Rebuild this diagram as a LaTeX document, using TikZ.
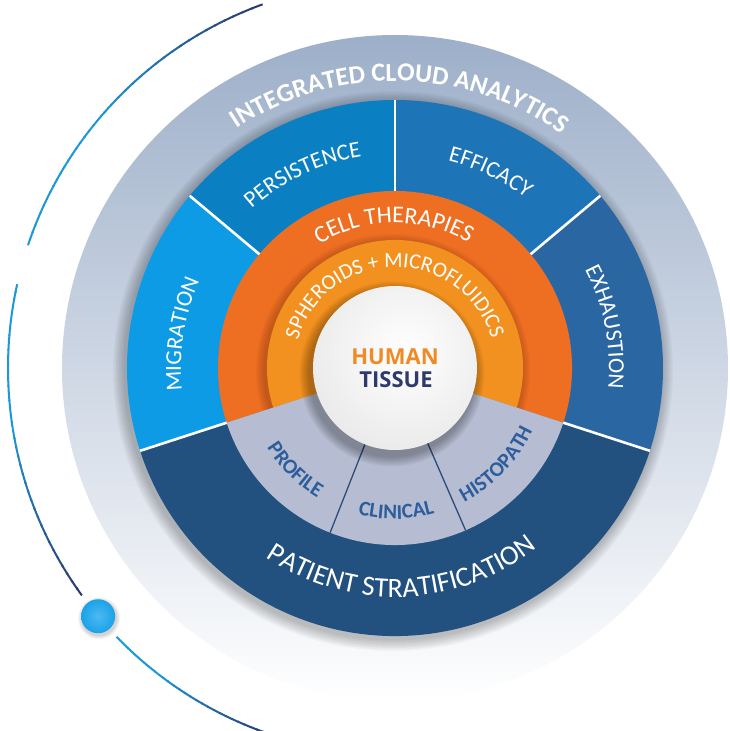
\documentclass[tikz,border=0pt]{standalone}
\usepackage{fontspec}
\setmainfont{Carlito}
\newfontfamily\centrefont{Open Sans}
\usetikzlibrary{decorations.text,calc}

% palette
\definecolor{ringgrey}{HTML}{9DAFC9}
\definecolor{ringgreymid}{HTML}{B6C3D5}
\definecolor{persist}{HTML}{0A80C3}
\definecolor{effic}{HTML}{1D74B6}
\definecolor{exhaus}{HTML}{2A66A2}
\definecolor{migr}{HTML}{0E9BE6}
\definecolor{patient}{HTML}{22517F}
\definecolor{cellorange}{HTML}{EE6E22}
\definecolor{sphorange}{HTML}{F2911F}
\definecolor{subgrey}{HTML}{B6BDD2}
\definecolor{subtext}{HTML}{2D5E9B}
\definecolor{subline}{HTML}{2C4B78}
\definecolor{humanor}{HTML}{F08A24}
\definecolor{tissuenavy}{HTML}{2E3A6B}
\definecolor{arcnavy}{HTML}{2B386A}
\definecolor{arcblue}{HTML}{1E98D6}
\definecolor{dotblue}{HTML}{1BA2E8}
\definecolor{dotlight}{HTML}{4DB9F2}

% annular sector: colour, from angle, to angle, inner radius, outer radius
\newcommand{\ringsector}[5]{%
  \fill[#1] (#2:#4) -- (#2:#5) arc[start angle=#2, end angle=#3, radius=#5]
    -- (#3:#4) arc[start angle=#3, end angle=#2, radius=#4] -- cycle;}

% text running clockwise (upper half, letters facing outwards)
\newcommand{\cwlabel}[5]{%
  \path[decorate, decoration={text along path, text align=center, text={|#1|#2}}]
    ({#3+#4}:#5) arc[start angle={#3+#4}, end angle={#3-#4}, radius=#5];}

% text running counter-clockwise (lower half, letters facing the centre)
\newcommand{\ccwlabel}[5]{%
  \path[decorate, decoration={text along path, text align=center, text={|#1|#2}}]
    ({#3-#4}:#5) arc[start angle={#3-#4}, end angle={#3+#4}, radius=#5];}

% one piece of the outer orbit, colour blended from navy to blue
\newcommand{\orbitpiece}[4]{%
  \foreach \k in {0,...,19}{%
    \pgfmathsetmacro\oa{#1+(#2-#1)*\k/20}%
    \pgfmathsetmacro\ob{min(#1+(#2-#1)*(\k+1.2)/20,#2)}%
    \pgfmathsetmacro\op{#3+(#4-#3)*(\k+0.5)/20}%
    \draw[orbit, arcnavy!\op!arcblue] (\oa:387) arc[start angle=\oa, end angle=\ob, radius=387];
  }}

\newcommand{\bigfmt}{\color{white}\bfseries\fontsize{26}{26}\selectfont}
\newcommand{\bluefmt}{\color{white}\fontsize{23}{23}\selectfont}
\newcommand{\cellfmt}{\color{white}\fontsize{24}{24}\selectfont}
\newcommand{\sphfmt}{\color{white}\fontsize{21.5}{21.5}\selectfont}
\newcommand{\patfmt}{\color{white}\fontsize{28}{28}\selectfont}
\newcommand{\subfmt}{\color{subtext}\bfseries\fontsize{21}{21}\selectfont}

\tikzset{
  orbit/.style={line width=2pt},
  divider/.style={white, line width=2.6pt},
  subdivider/.style={subline, line width=1.3pt},
  centrelabel/.style={font=\centrefont\bfseries\fontsize{22}{22}\selectfont, inner sep=0pt},
}

\begin{document}
\begin{tikzpicture}[x=1pt, y=1pt]
  \useasboundingbox (-395,-363) rectangle (334,368);
  \fill[white] (-395,-363) rectangle (334,368);

  % outer orbit with its marker
  \orbitpiece{110}{140}{100}{0}
  \orbitpiece{140}{161.5}{0}{0}
  \orbitpiece{167.5}{189}{0}{0}
  \orbitpiece{189}{216}{0}{100}
  \orbitpiece{224}{232}{0}{0}
  \orbitpiece{232}{252}{0}{100}
  \coordinate (marker) at (219.9:387);
  \foreach \k in {1,...,5} \fill[black, opacity=0.035] ($(marker)+(1,-2)$) circle ({17+\k*0.8});
  \shade[inner color=dotlight, outer color=dotblue] (marker) circle (17);

  % outer analytics ring, fading towards the bottom
  \shade[top color=ringgrey, middle color=ringgreymid, bottom color=white] (0,0) circle (333);
  \foreach \k in {1,...,8} \fill[black, opacity=0.03] (-2,-3) circle ({268+\k*1.5});

  % application ring
  \ringsector{persist}{90}{140}{0}{268}
  \ringsector{effic}{40}{90}{0}{268}
  \ringsector{exhaus}{-18}{40}{0}{268}
  \ringsector{migr}{140}{198}{0}{268}
  \ringsector{patient}{198}{342}{0}{268}

  % model rings
  \ringsector{cellorange}{-18}{198}{0}{177}
  \begin{scope}
    \clip (-18:0) -- (-18:177) arc[start angle=-18, end angle=198, radius=177] -- cycle;
    \foreach \k in {1,...,6} \fill[black, opacity=0.03] (-2,-3) circle ({128+\k*1.5});
  \end{scope}
  \ringsector{sphorange}{-18}{198}{0}{128}
  \ringsector{subgrey}{198}{342}{0}{177}

  % separators
  \foreach \a in {-18,40,90,140,198} \draw[divider] (\a:177) -- (\a:268);
  \foreach \a in {248.5,293.5} \draw[subdivider] (\a:82) -- (\a:177);

  % centre disc
  \foreach \k in {1,...,8} \fill[black, opacity=0.04] (-3,-6) circle ({82+\k*1.3});
  \begin{scope}
    \clip (0,0) circle (82);
    \shade[inner color=white, outer color=black!9, shading=radial] (10,15) circle (110);
  \end{scope}
  \node[centrelabel, text=humanor] (human) at (0,11) {HUMAN};
  \node[centrelabel, text=tissuenavy] (tissue) at (1,-12) {TISSUE};

  % ring labels
  \cwlabel{\bigfmt}{INTEGRATED CLOUD ANALYTICS}{89}{80}{287}
  \cwlabel{\bluefmt}{PERSISTENCE}{115.5}{45}{214}
  \cwlabel{\bluefmt}{EFFICACY}{64}{45}{214}
  \cwlabel{\bluefmt}{EXHAUSTION}{11}{45}{214}
  \cwlabel{\bluefmt}{MIGRATION}{171}{45}{214}
  \cwlabel{\cellfmt}{CELL THERAPIES}{90.5}{60}{145}
  \cwlabel{\sphfmt}{SPHEROIDS + MICROFLUIDICS}{90.5}{100}{101}
  \ccwlabel{\patfmt}{PATIENT STRATIFICATION}{272}{60}{229}
  \ccwlabel{\subfmt}{PROFILE}{225.5}{30}{151}
  \ccwlabel{\subfmt}{CLINICAL}{270.5}{30}{151}
  \ccwlabel{\subfmt}{HISTOPATH}{316.5}{30}{151}
\end{tikzpicture}
\end{document}
